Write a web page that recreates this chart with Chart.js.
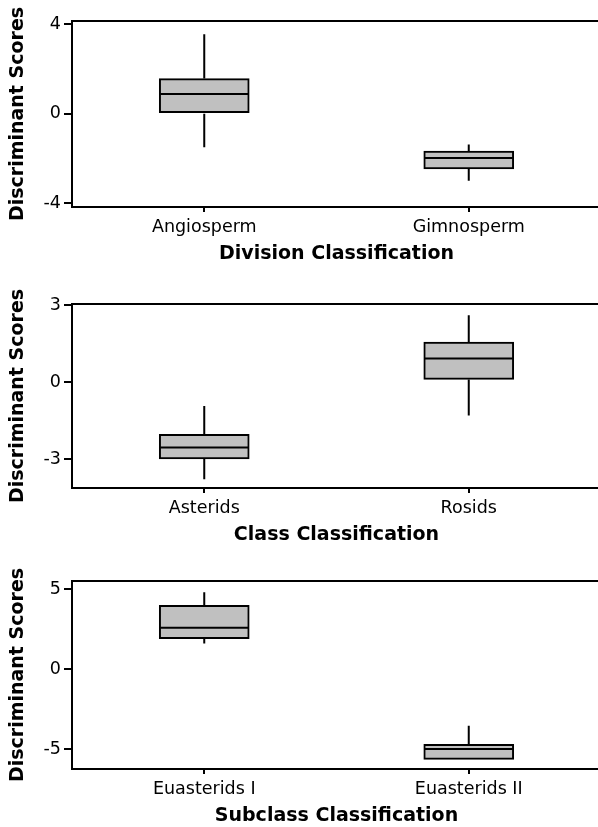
<!DOCTYPE html>
<html>
<head>
<meta charset="utf-8">
<script src="https://cdn.jsdelivr.net/npm/chart.js@4/dist/chart.umd.min.js"></script>
<style>
  html, body { margin: 0; padding: 0; background: #fff; }
  body { width: 598px; height: 827px; overflow: hidden; position: relative; }
  .panel { position: absolute; left: 0; }
</style>
</head>
<body>
<div class="panel" style="top:0px"><canvas id="division" width="601" height="270"></canvas></div>
<div class="panel" style="top:283px"><canvas id="class" width="601" height="268"></canvas></div>
<div class="panel" style="top:560px"><canvas id="subclass" width="601" height="272"></canvas></div>
<script>
// Division level
const divisionLabels = ['Angiosperm', 'Gimnosperm'];
const divisionMin    = [-1.50, -3.00];
const divisionQ1     = [ 0.00, -2.47];
const divisionMedian = [ 0.88, -1.98];
const divisionQ3     = [ 1.57, -1.68];
const divisionMax    = [ 3.56, -1.38];
const divisionTicks  = [-4, 0, 4];

// Class level
const classLabels = ['Asterids', 'Rosids'];
const classMin    = [-3.79, -1.30];
const classQ1     = [-3.00,  0.10];
const classMedian = [-2.55,  0.92];
const classQ3     = [-2.04,  1.56];
const classMax    = [-0.93,  2.60];
const classTicks  = [-3, 0, 3];

// Subclass level
const subclassLabels = ['Euasterids I', 'Euasterids II'];
const subclassMin    = [1.60, -5.65];
const subclassQ1     = [1.89, -5.65];
const subclassMedian = [2.58, -5.00];
const subclassQ3     = [3.98, -4.71];
const subclassMax    = [4.79, -3.54];
const subclassTicks  = [-5, 0, 5];

const FONT = 'DejaVu Sans';

// Whiskers and median lines drawn on top of the floating-bar boxes
const boxExtras = {
  id: 'boxExtras',
  afterDatasetsDraw(chart, args, opts) {
    const { ctx } = chart;
    const y = chart.scales.y;
    const meta = chart.getDatasetMeta(0);
    ctx.save();
    ctx.strokeStyle = '#000';
    ctx.lineWidth = 2;
    ctx.lineCap = 'butt';
    meta.data.forEach((bar, i) => {
      const x = bar.x;
      const half = bar.width / 2;
      const yMin = y.getPixelForValue(opts.min[i]);
      const yQ1 = y.getPixelForValue(opts.q1[i]);
      const yMed = y.getPixelForValue(opts.median[i]);
      const yQ3 = y.getPixelForValue(opts.q3[i]);
      const yMax = y.getPixelForValue(opts.max[i]);
      ctx.beginPath();
      ctx.moveTo(x, yQ3); ctx.lineTo(x, yMax);
      ctx.moveTo(x, yQ1); ctx.lineTo(x, yMin);
      ctx.moveTo(x - half + 1, yMed); ctx.lineTo(x + half - 1, yMed);
      ctx.stroke();
    });
    ctx.restore();
  }
};

function boxChart(id, labels, min, q1, median, q3, max, ticks, yMin, yMax, xTitle) {
  new Chart(document.getElementById(id), {
    type: 'bar',
    data: {
      labels: labels,
      datasets: [{
        data: labels.map((_, i) => [q1[i], q3[i]]),
        backgroundColor: '#c0c0c0',
        borderColor: '#000',
        borderWidth: 2,
        borderSkipped: false,
        barThickness: 90
      }]
    },
    plugins: [boxExtras],
    options: {
      responsive: false,
      devicePixelRatio: 1,
      animation: false,
      layout: { padding: { top: 21, left: 0, right: 0, bottom: 0 } },
      plugins: {
        legend: { display: false },
        tooltip: { enabled: false },
        boxExtras: { min, q1, median, q3, max }
      },
      scales: {
        x: {
          type: 'category',
          position: 'bottom',
          offset: true,
          grid: { display: true, drawOnChartArea: false, offset: false, tickLength: 5, color: '#000', lineWidth: 2 },
          border: { display: true, color: '#000', width: 2 },
          ticks: { color: '#000', font: { family: FONT, size: 17.5 }, padding: 5, maxRotation: 0 },
          title: { display: true, text: xTitle, color: '#000', font: { family: FONT, size: 19, weight: 'bold' }, padding: { top: 0, bottom: 5 } },
          afterFit(s) { s.height = 63; }
        },
        xTop: {
          type: 'category',
          position: 'top',
          grid: { display: false },
          border: { display: true, color: '#000', width: 2 },
          ticks: { display: false },
          afterFit(s) { s.height = 0; }
        },
        y: {
          min: yMin,
          max: yMax,
          afterBuildTicks(s) { s.ticks = ticks.map(v => ({ value: v })); },
          grid: { display: true, drawOnChartArea: false, tickLength: 8, color: '#000', lineWidth: 2 },
          border: { display: true, color: '#000', width: 2 },
          ticks: { color: '#000', font: { family: FONT, size: 17.5 }, padding: 3, callback: v => String(v) },
          title: { display: true, text: 'Discriminant Scores', color: '#000', font: { family: FONT, size: 19, weight: 'bold' }, padding: { top: 7, bottom: 0 } },
          afterFit(s) { s.width = 72; }
        }
      }
    }
  });
}

boxChart('division', divisionLabels, divisionMin, divisionQ1, divisionMedian, divisionQ3, divisionMax,
         divisionTicks, -4.18, 4.15, 'Division Classification');
boxChart('class', classLabels, classMin, classQ1, classMedian, classQ3, classMax,
         classTicks, -4.13, 3.04, 'Class Classification');
boxChart('subclass', subclassLabels, subclassMin, subclassQ1, subclassMedian, subclassQ3, subclassMax,
         subclassTicks, -6.25, 5.5, 'Subclass Classification');
</script>
</body>
</html>
